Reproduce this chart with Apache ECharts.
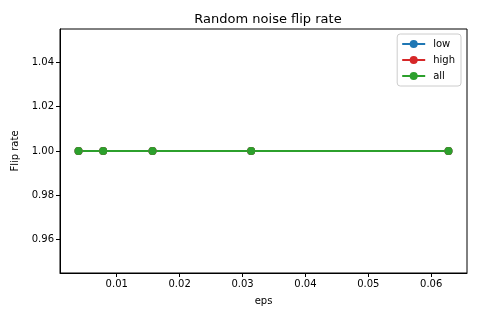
<!DOCTYPE html>
<html>
<head>
<meta charset="utf-8">
<script src="https://cdn.jsdelivr.net/npm/echarts@6/dist/echarts.min.js"></script>
<style>html,body{margin:0;padding:0;background:#fff}#c{width:478px;height:319px}</style>
</head>
<body>
<div id="c"></div>
<script>
const eps = [0.0039216, 0.0078431, 0.0156863, 0.0313725, 0.0627451];
const lowRate = [1.0, 1.0, 1.0, 1.0, 1.0];
const highRate = [1.0, 1.0, 1.0, 1.0, 1.0];
const allRate = [1.0, 1.0, 1.0, 1.0, 1.0];
const seriesNames = ['low', 'high', 'all'];
const xTicks = [0.01, 0.02, 0.03, 0.04, 0.05, 0.06];
const yTicks = [0.96, 0.98, 1.00, 1.02, 1.04];
const colors = ['#1f77b4', '#d62728', '#2ca02c'];

const font = 'DejaVu Sans';
const chart = echarts.init(document.getElementById('c'), null, {renderer: 'canvas'});
const mk = (name, vals, color) => ({
  name, type: 'line', data: eps.map((x, i) => [x, vals[i]]),
  symbol: 'circle', symbolSize: 8, showSymbol: true,
  lineStyle: {color, width: 1.8}, itemStyle: {color},
  emphasis: {disabled: true}, animation: false
});
chart.setOption({
  animation: false,
  textStyle: {fontFamily: font},
  title: {text: 'Random noise flip rate', left: 263, top: 8, textAlign: 'center',
    textStyle: {fontFamily: font, fontSize: 13, fontWeight: 'normal', color: '#000'}},
  grid: {left: 60, right: 11, top: 29, bottom: 46, show: true, borderColor: '#000', borderWidth: 1, containLabel: false},
  legend: {
    right: 17, top: 34, orient: 'vertical', itemWidth: 23, itemHeight: 10, itemGap: 6,
    padding: [5, 6, 5, 4], borderColor: '#ccc', borderWidth: 1, borderRadius: 3,
    data: seriesNames, textStyle: {fontFamily: font, fontSize: 10, color: '#000', padding: [0, 0, 0, 3]}
  },
  xAxis: {
    type: 'value', min: 0.00098, max: 0.06569,
    name: 'eps', nameLocation: 'middle', nameGap: 23,
    nameTextStyle: {fontFamily: font, fontSize: 10, color: '#000'},
    axisLine: {show: true, lineStyle: {color: '#000', width: 1}},
    axisTick: {show: true, length: 4, inside: false, customValues: xTicks, lineStyle: {color: '#000'}},
    axisLabel: {customValues: xTicks, fontFamily: font, fontSize: 10, color: '#000', margin: 6,
      formatter: v => v.toFixed(2)},
    splitLine: {show: false}
  },
  yAxis: {
    type: 'value', min: 0.945, max: 1.055,
    name: 'Flip rate', nameLocation: 'middle', nameGap: 39, nameRotate: 90,
    nameTextStyle: {fontFamily: font, fontSize: 10, color: '#000'},
    axisLine: {show: true, lineStyle: {color: '#000', width: 1}},
    axisTick: {show: true, length: 4, inside: false, customValues: yTicks, lineStyle: {color: '#000'}},
    axisLabel: {customValues: yTicks, fontFamily: font, fontSize: 10, color: '#000', margin: 6,
      formatter: v => v.toFixed(2)},
    splitLine: {show: false}
  },
  series: [mk('low', lowRate, colors[0]), mk('high', highRate, colors[1]), mk('all', allRate, colors[2])]
});
</script>
</body>
</html>
